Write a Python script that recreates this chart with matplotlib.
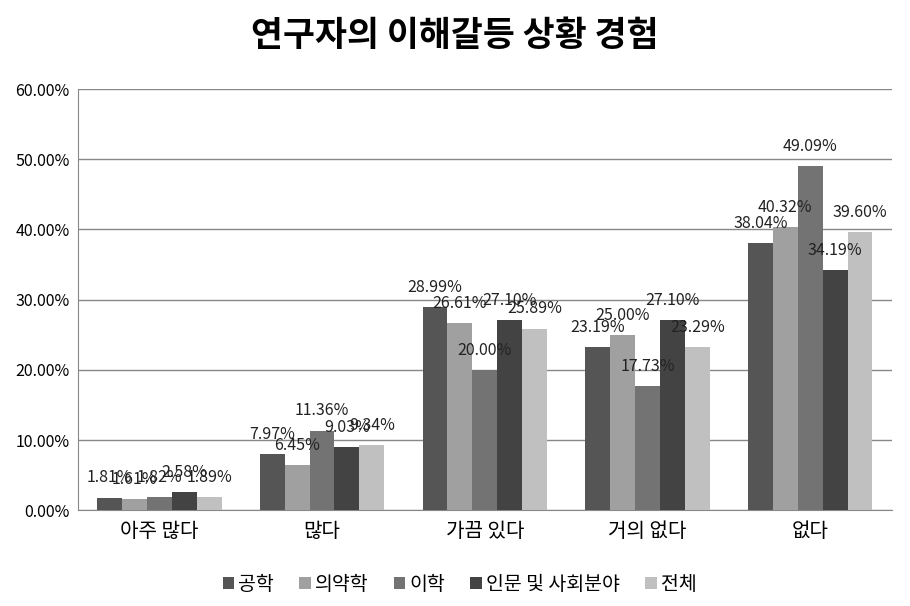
import numpy as np
import matplotlib.pyplot as plt

plt.rcParams['font.family'] = ['Noto Sans CJK KR', 'DejaVu Sans']

categories = ['아주 많다', '많다', '가끔 있다', '거의 없다', '없다']
series_names = ['공학', '의약학', '이학', '인문 및 사회분야', '전체']
engineering = [1.81, 7.97, 28.99, 23.19, 38.04]
medical = [1.61, 6.45, 26.61, 25.00, 40.32]
science = [1.82, 11.36, 20.00, 17.73, 49.09]
humanities = [2.58, 9.03, 27.10, 27.10, 34.19]
total = [1.89, 9.34, 25.89, 23.29, 39.60]
colors = ['#555555', '#a0a0a0', '#737373', '#434343', '#c0c0c0']

series = [engineering, medical, science, humanities, total]

fig = plt.figure(figsize=(9.1, 6.06), dpi=100)
ax = fig.add_axes([0.0857, 0.158, 0.894, 0.695])

x = np.arange(len(categories))
w = 0.153
for i, (vals, name) in enumerate(zip(series, series_names)):
    pos = x + (i - 2) * w
    ax.bar(pos, vals, width=w, color=colors[i], label=name, zorder=3)
    # value labels above each bar
    for px, v in zip(pos, vals):
        ax.annotate('%.2f%%' % v, (px, v), xytext=(0, 8), textcoords='offset points',
                    ha='center', va='bottom', fontsize=11.5, color='#222222', zorder=4)

ax.set_ylim(0, 60)
ax.set_xlim(-0.5, 4.5)
ax.set_yticks(np.arange(0, 61, 10))
ax.set_yticklabels(['%.2f%%' % t for t in np.arange(0, 61, 10)], fontsize=11.5)
ax.set_xticks(x)
ax.set_xticklabels(categories, fontsize=14.5)
ax.tick_params(axis='both', length=0, pad=6)
ax.tick_params(axis='x', pad=8)
ax.yaxis.grid(True, color='#888888', linewidth=1, zorder=0)
for s in ['top', 'right']:
    ax.spines[s].set_visible(False)
ax.spines['left'].set_color('#888888')
ax.spines['bottom'].set_color('#888888')

fig.suptitle('연구자의 이해갈등 상황 경험', fontsize=25, fontweight='bold', y=0.97)
fig.legend(loc='lower center', ncol=5, frameon=False, fontsize=14,
           bbox_to_anchor=(0.505, -0.01), handlelength=0.6, handleheight=0.6,
           handletextpad=0.2, columnspacing=1.3)

fig.savefig('out.png', dpi=100)
